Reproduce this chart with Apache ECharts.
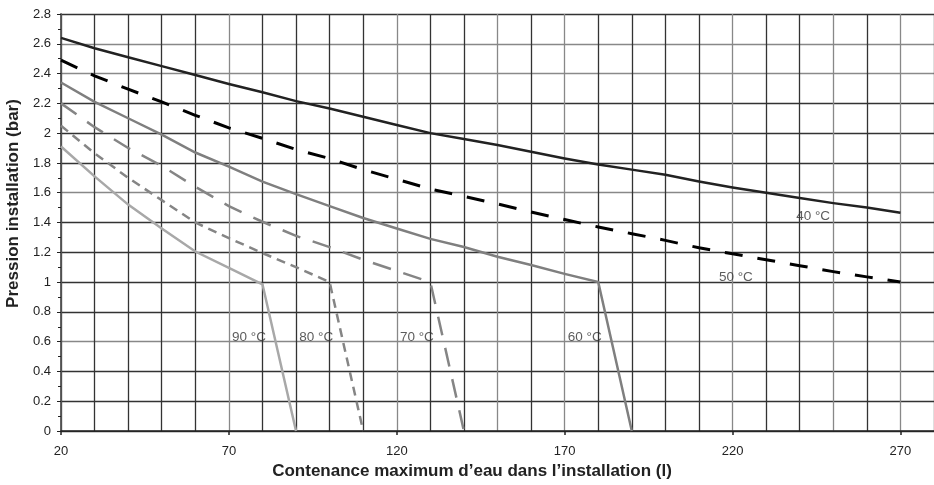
<!DOCTYPE html>
<html>
<head>
<meta charset="utf-8">
<script src="https://cdn.jsdelivr.net/npm/echarts@6/dist/echarts.min.js"></script>
<style>html,body{margin:0;padding:0;background:#fff}#c{width:934px;height:485px}</style>
</head>
<body>
<div id="c"></div>
<script>
// ---- data ----
const x40 = [20,30,40,50,60,70,80,90,100,110,120,130,140,150,160,170,180,190,200,210,220,230,240,250,260,270];
const p40 = [2.64,2.57,2.51,2.45,2.39,2.33,2.275,2.215,2.165,2.11,2.055,2.0,1.96,1.92,1.875,1.83,1.79,1.755,1.72,1.675,1.635,1.60,1.565,1.53,1.50,1.465];
const x50 = [20,30,40,50,60,70,80,90,100,110,120,130,140,150,160,170,180,190,200,210,220,230,240,250,260,270];
const p50 = [2.49,2.385,2.295,2.21,2.12,2.035,1.965,1.89,1.83,1.755,1.69,1.625,1.575,1.525,1.47,1.42,1.37,1.325,1.28,1.23,1.19,1.15,1.11,1.07,1.035,1.0];
const x60 = [20,30,40,50,60,70,80,90,100,110,120,130,140,150,160,170,180,190];
const p60 = [2.34,2.21,2.10,1.99,1.87,1.775,1.675,1.59,1.51,1.43,1.36,1.29,1.235,1.17,1.115,1.055,1.0,0];
const x70 = [20,30,40,50,60,70,80,90,100,110,120,130,140];
const p70 = [2.20,2.04,1.90,1.78,1.64,1.51,1.405,1.31,1.235,1.15,1.075,1.0,0];
const x80 = [20,30,40,50,60,70,80,90,100,110];
const p80 = [2.05,1.865,1.70,1.55,1.40,1.295,1.195,1.10,1.0,0];
const x90 = [20,30,40,50,60,70,80,90];
const p90 = [1.91,1.71,1.52,1.36,1.205,1.095,0.985,0];

const curveLabels = ['40 °C','50 °C','60 °C','70 °C','80 °C','90 °C'];
const labelX = [244,221,176,126,96,76];
const labelY = [1.44,1.03,0.63,0.63,0.63,0.63];

const xTitle = 'Contenance maximum d’eau dans l’installation (l)';
const yTitle = 'Pression installation (bar)';

// ---- chart ----
const zip = (xs, ys) => xs.map((x, i) => [x, ys[i]]);
const FONT = '"Liberation Sans", Arial, sans-serif';

const ySplitColors = ['#333','#333','#333','#888','#333','#333','#333','#333','#888','#333','#333','#333','#8a8a8a','#888','#333'];
const xSplitColors = ['#333','#333','#333','#333','#333','#888','#333','#333','#333','#333','#888','#333','#333','#888','#333','#888','#333','#333','#333','#333','#888','#333','#333','#888','#333','#888','#333'];

function lineSeries(name, data, color, width, dash) {
  return {
    name, type: 'line', data, xAxisIndex: 0, yAxisIndex: 0,
    symbol: 'none', smooth: false, silent: true, z: 3,
    lineStyle: { color, width, type: dash || 'solid', cap: 'butt', join: 'miter' }
  };
}

const chart = echarts.init(document.getElementById('c'), null, { renderer: 'canvas' });
chart.setOption({
  animation: false,
  backgroundColor: '#fff',
  grid: { left: 61, right: 0, top: 14, bottom: 54, containLabel: false, outerBoundsMode: 'none' },
  xAxis: [
    {
      type: 'value', min: 20, max: 280, interval: 10, position: 'bottom',
      axisLine: { show: true, onZero: false, lineStyle: { color: '#222', width: 1.5 } },
      axisTick: { show: false },
      axisLabel: { show: false },
      splitLine: { show: true, lineStyle: { color: xSplitColors, width: 1.3 } },
      name: xTitle, nameLocation: 'middle', nameGap: 32,
      nameTextStyle: { fontFamily: FONT, fontSize: 17, fontWeight: 'bold', color: '#222', padding: [0, 51, 0, 0] }
    },
    {
      type: 'value', min: 20, max: 280, interval: 50, position: 'bottom',
      axisLine: { show: false, onZero: false },
      axisTick: { show: true, length: 4, lineStyle: { color: '#222', width: 1.5 } },
      axisLabel: { show: true, margin: 14, fontFamily: FONT, fontSize: 13, color: '#222', showMaxLabel: false },
      splitLine: { show: false }
    }
  ],
  yAxis: {
    type: 'value', min: 0, max: 2.8, interval: 0.2,
    axisLine: { show: true, onZero: false, lineStyle: { color: '#555', width: 1.8 } },
    axisTick: { show: true, length: 4, lineStyle: { color: '#222', width: 1 } },
    minorTick: { show: true, splitNumber: 2, length: 3, lineStyle: { color: '#222', width: 1 } },
    axisLabel: { margin: 10, fontFamily: FONT, fontSize: 13, color: '#222' },
    splitLine: { show: true, lineStyle: { color: ySplitColors, width: 1.3 } },
    name: yTitle, nameLocation: 'middle', nameGap: 33, nameRotate: 90,
    nameTextStyle: { fontFamily: FONT, fontSize: 17, fontWeight: 'bold', color: '#222', padding: [0, 0, 0, 38] }
  },
  series: [
    lineSeries('40', zip(x40, p40), '#222222', 2.5),
    lineSeries('50', zip(x50, p50), '#000000', 3, [18, 15]),
    lineSeries('60', zip(x60, p60), '#7f7f7f', 2.5),
    lineSeries('70', zip(x70, p70), '#858585', 2.5, [19, 13]),
    lineSeries('80', zip(x80, p80), '#858585', 2.5, [9, 6]),
    lineSeries('90', zip(x90, p90), '#a8a8a8', 2.5),
    {
      type: 'scatter', xAxisIndex: 0, yAxisIndex: 0, silent: true, z: 5,
      symbolSize: 0,
      data: curveLabels.map((t, i) => ({ value: [labelX[i], labelY[i]], name: t })),
      label: {
        show: true, position: 'inside', formatter: p => p.name,
        fontFamily: FONT, fontSize: 13.5, color: '#333'
      }
    }
  ]
});
</script>
</body>
</html>
